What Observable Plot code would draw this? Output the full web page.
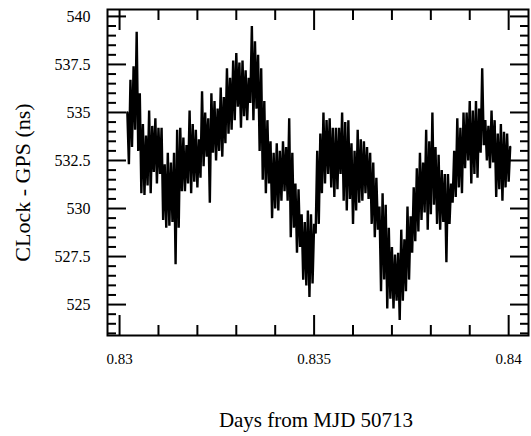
<!DOCTYPE html>
<html>
<head>
<meta charset="utf-8">
<script src="https://cdn.jsdelivr.net/npm/d3@7"></script>
<script src="https://cdn.jsdelivr.net/npm/@observablehq/plot@0.6"></script>
<style>
  body { margin: 0; background: #fff; }
  #chart svg { display: block; }
</style>
</head>
<body>
<div id="chart"></div>
<script>
// Samples (regularly spaced in time)
const startDay = 0.8302;   // day of first sample (from MJD 50713)
const stepDay = 0.00004;   // sampling interval in days
const clockMinusGps = [
  535.0, 532.3, 536.7, 533.2, 537.4, 534.1, 539.2, 533.0, 536.0, 530.8,
  534.4, 530.7, 533.8, 531.2, 535.1, 530.8, 534.3, 531.9, 534.7, 531.3,
  534.2, 531.8, 534.2, 529.4, 532.3, 529.0, 532.9, 529.1, 532.4, 529.3,
  532.9, 527.1, 534.1, 529.0, 534.2, 530.9, 533.7, 530.9, 533.3, 531.3,
  535.1, 530.8, 534.4, 531.4, 534.1, 531.1, 533.6, 531.6, 536.1, 532.2,
  535.0, 532.7, 534.7, 530.3, 536.0, 532.9, 535.6, 532.5, 535.2, 533.0,
  536.3, 532.7, 535.8, 533.4, 537.3, 533.9, 536.8, 534.1, 537.7, 534.6,
  538.1, 535.3, 537.6, 534.2, 537.7, 534.8, 537.2, 534.6, 536.8, 535.5,
  539.5, 534.6, 538.7, 535.2, 538.0, 533.0, 537.3, 531.5, 535.6, 530.8,
  534.6, 531.3, 533.5, 529.5, 532.9, 530.0, 533.4, 529.9, 533.0, 530.4,
  533.5, 530.9, 533.2, 530.4, 534.7, 528.5, 532.9, 529.0, 531.3, 527.7,
  531.0, 528.0, 529.7, 526.3, 529.3, 526.0, 529.9, 525.4, 529.7, 526.1,
  529.2, 528.7, 533.0, 529.2, 533.9, 530.8, 535.0, 531.3, 534.6, 531.8,
  534.7, 531.1, 534.2, 530.6, 534.2, 531.0, 534.2, 531.8, 535.0, 530.4,
  534.5, 529.9, 534.6, 530.5, 533.4, 529.2, 533.0, 529.9, 534.1, 530.3,
  533.6, 530.4, 533.5, 530.8, 533.2, 530.5, 532.9, 529.2, 532.4, 528.5,
  531.6, 528.9, 530.1, 525.7, 530.8, 526.3, 530.2, 524.8, 529.0, 525.3,
  528.0, 524.8, 527.6, 525.2, 527.7, 524.2, 528.9, 525.2, 528.4, 525.7,
  530.1, 526.3, 529.6, 527.7, 531.1, 528.3, 532.1, 528.8, 532.9, 529.4,
  532.4, 529.8, 534.1, 528.9, 533.5, 529.7, 535.0, 530.2, 533.2, 529.2,
  532.8, 528.9, 532.0, 529.3, 531.8, 527.2, 531.8, 529.2, 531.3, 530.3,
  533.0, 530.6, 534.7, 531.1, 534.2, 530.8, 535.0, 532.1, 535.0, 532.5,
  535.6, 531.3, 535.1, 531.8, 535.6, 531.6, 535.2, 532.9, 537.3, 533.3,
  534.6, 532.5, 534.3, 532.1, 535.1, 532.4, 534.6, 530.6, 533.9, 531.0,
  534.4, 530.4, 534.0, 531.1, 533.9, 531.4, 533.2
];

// Tick values and labels
const xMajorTicks = [0.83, 0.835, 0.84];
const xMajorLabels = ["0.83", "0.835", "0.84"];
const xMinorTicks = [0.831, 0.832, 0.833, 0.834, 0.836, 0.837, 0.838, 0.839];
const yMajorTicks = [525, 527.5, 530, 532.5, 535, 537.5, 540];
const yMajorLabels = ["525", "527.5", "530", "532.5", "535", "537.5", "540"];
const yMinorTicks = [523.5, 524, 524.5, 525.5, 526, 526.5, 527, 528, 528.5, 529, 529.5,
  530.5, 531, 531.5, 532, 533, 533.5, 534, 534.5, 535.5, 536, 536.5, 537, 538, 538.5, 539, 539.5];

const xTitle = "Days from MJD 50713";
const yTitle = "CLock - GPS (ns)";

const data = clockMinusGps.map((v, i) => ({day: startDay + i * stepDay, ns: v}));
const xLabelOf = new Map(xMajorTicks.map((t, i) => [t, xMajorLabels[i]]));
const yLabelOf = new Map(yMajorTicks.map((t, i) => [t, yMajorLabels[i]]));

const serif = "'Liberation Serif', 'Times New Roman', serif";

const chart = Plot.plot({
  width: 531,
  height: 436,
  marginTop: 9,
  marginBottom: 101,
  marginLeft: 107,
  marginRight: 3,
  style: {fontFamily: serif, fontSize: "15px", background: "#fff", color: "#000"},
  x: {domain: [0.82969, 0.84051]},
  y: {domain: [523.39, 540.36]},
  marks: [
    Plot.line(data, {x: "day", y: "ns", stroke: "#000", strokeWidth: 2.4, strokeLinejoin: "miter", strokeMiterlimit: 2}),
    Plot.frame({stroke: "#000", strokeWidth: 2}),
    // inward ticks, bottom & top
    Plot.axisX(xMajorTicks, {anchor: "bottom", tickSize: -20, fill: "none", label: null, strokeWidth: 2}),
    Plot.axisX(xMinorTicks, {anchor: "bottom", tickSize: -10, fill: "none", label: null, strokeWidth: 2}),
    Plot.axisX(xMajorTicks, {anchor: "top", tickSize: -20, fill: "none", label: null, strokeWidth: 2}),
    Plot.axisX(xMinorTicks, {anchor: "top", tickSize: -10, fill: "none", label: null, strokeWidth: 2}),
    // inward ticks, left & right
    Plot.axisY(yMajorTicks, {anchor: "left", tickSize: -19, fill: "none", label: null, strokeWidth: 2}),
    Plot.axisY(yMinorTicks, {anchor: "left", tickSize: -9, fill: "none", label: null, strokeWidth: 2}),
    Plot.axisY(yMajorTicks, {anchor: "right", tickSize: -19, fill: "none", label: null, strokeWidth: 2}),
    Plot.axisY(yMinorTicks, {anchor: "right", tickSize: -9, fill: "none", label: null, strokeWidth: 2}),
    // tick labels
    Plot.axisX(xMajorTicks, {anchor: "bottom", tickSize: 0, tickPadding: 18, label: null,
      tickFormat: d => xLabelOf.get(d), fontSize: 15}),
    Plot.axisY(yMajorTicks, {anchor: "left", tickSize: 0, tickPadding: 17, label: null,
      tickFormat: d => yLabelOf.get(d), fontSize: 16}),
    // axis titles
    Plot.text([xTitle], {frameAnchor: "bottom", textAnchor: "middle", lineAnchor: "middle",
      dy: 85, dx: -2, fontSize: 21, fill: "#000"}),
    Plot.text([yTitle], {frameAnchor: "left", textAnchor: "middle", lineAnchor: "middle",
      dx: -85, dy: 10, rotate: -90, fontSize: 22, fill: "#000"})
  ]
});
document.getElementById("chart").appendChild(chart);
</script>
</body>
</html>
